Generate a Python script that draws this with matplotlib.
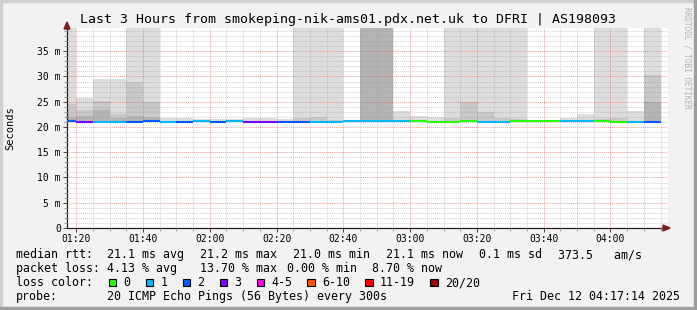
import numpy as np
import matplotlib
matplotlib.use("Agg")
import matplotlib.pyplot as plt
from matplotlib.patches import Polygon, Rectangle
from matplotlib.transforms import Affine2D

W, H = 697, 310
OFF = 45.0  # smoke that leaves the top of the graph

# 5 minute bins, minutes after 01:15
bin_start = np.arange(0, 180, 5)

median_ms = [21.15, 20.95, 21.05, 21.05, 21.0, 21.2, 20.95, 20.95, 21.1, 20.95,
             21.1, 20.95, 20.95, 20.95, 20.95, 20.95, 20.95, 21.1, 21.1, 21.1,
             21.1, 21.1, 20.95, 20.95, 21.1, 20.95, 20.95, 21.1, 21.1, 21.1,
             21.15, 21.15, 21.1, 20.95, 20.95, 20.95]
lost_pings = [2, 3, 1, 1, 2, 2, 1, 2, 1, 2, 1, 3, 3, 2, 2, 1, 1, 1, 1, 1,
              1, 0, 0, 0, 0, 1, 1, 0, 0, 0, 1, 1, 0, 0, 1, 2]
nan = np.nan
smoke_light = [OFF, 25.7, 29.6, 29.6, OFF, OFF, 21.8, 21.7, 21.6, 21.6,
               21.5, 21.8, 21.8, 21.5, OFF, OFF, OFF, nan, OFF, OFF,
               23.1, 22.2, 22.0, OFF, OFF, OFF, OFF, OFF, 21.4, 21.4,
               21.8, 22.6, OFF, OFF, 23.1, OFF]
smoke_mid = [24.5, 23.3, 25.1, 22.5, 28.9, 24.9, nan, nan, nan, nan,
             nan, nan, nan, nan, 21.8, 22.0, 21.4, nan, OFF, OFF,
             nan, nan, nan, 21.7, 25.0, 23.0, 21.8, 21.5, nan, nan,
             nan, nan, 21.5, 21.8, nan, 30.2]
smoke_dark = [22.0, 22.1, 23.3, 21.7, 22.2, 22.0, nan, nan, nan, nan,
              nan, nan, nan, nan, nan, nan, nan, nan, OFF, OFF,
              nan, nan, nan, nan, nan, nan, nan, nan, nan, nan,
              nan, nan, nan, nan, nan, 25.0]

time_ticks = [5, 25, 45, 65, 85, 105, 125, 145, 165]
time_labels = ["01:20", "01:40", "02:00", "02:20", "02:40", "03:00", "03:20", "03:40", "04:00"]
y_ticks = [0, 5, 10, 15, 20, 25, 30, 35]
y_labels = ["0", "5 m", "10 m", "15 m", "20 m", "25 m", "30 m", "35 m"]

loss_legend = ["0", "1", "2", "3", "4-5", "6-10", "11-19", "20/20"]
loss_colors = ["#26ff00", "#00b8ff", "#0059ff", "#7e00ff", "#ff00ea", "#ff5500", "#ff0000", "#a10000"]


def loss_color(n):
    if n <= 3:
        return loss_colors[n]
    if n <= 5:
        return loss_colors[4]
    if n <= 10:
        return loss_colors[5]
    if n <= 19:
        return loss_colors[6]
    return loss_colors[7]


plt.rcParams["font.family"] = ["DejaVu Sans Mono"]
fig = plt.figure(figsize=(W / 100, H / 100), dpi=100, facecolor="#f2f2f2")
px = Affine2D().scale(1 / W, -1 / H).translate(0, 1) + fig.transFigure

x0, x1, y0, y1 = 67, 668, 28, 228
ax = fig.add_axes([x0 / W, 1 - y1 / H, (x1 - x0) / W, (y1 - y0) / H])
ax.set_facecolor("white")
ax.set_xlim(2.233, 182.233)
ax.set_ylim(0, 39.6)

# smoke
med = np.array(median_ms)
for vals, col in [(smoke_light, "#dddddd"), (smoke_mid, "#c8c8c8"), (smoke_dark, "#b4b4b4")]:
    v = np.array(vals)
    ok = ~np.isnan(v)
    ax.bar(bin_start[ok], v[ok] - med[ok], bottom=med[ok], width=5, align="edge",
           color=col, linewidth=0, zorder=1)

# median rtt coloured by loss
for t, m, n in zip(bin_start, median_ms, lost_pings):
    ax.hlines(m, t, t + 5, colors=loss_color(n), linewidth=1.5, zorder=4)

# grid
ax.set_xticks(time_ticks)
ax.set_xticklabels(time_labels)
ax.set_xticks(np.arange(5, 182, 5), minor=True)
ax.set_yticks(y_ticks)
ax.set_yticklabels(y_labels)
ax.set_yticks(np.arange(1, 40, 1), minor=True)
ax.grid(True, which="minor", color="#9a9a9a", alpha=0.45, linewidth=0.7, linestyle=(0, (1, 1)), zorder=2)
ax.grid(True, which="major", color="#de4f4f", alpha=0.55, linewidth=0.7, linestyle=(0, (1, 1)), zorder=2)
ax.set_axisbelow(False)
ax.tick_params(which="major", direction="out", length=3, width=0.7, color="#444444", labelsize=7, pad=1.5)
ax.tick_params(which="minor", direction="out", length=2, width=0.7, color="#999999")
for s in ["top", "right"]:
    ax.spines[s].set_visible(False)
for s in ["left", "bottom"]:
    ax.spines[s].set_color("#1f1f1f")
    ax.spines[s].set_linewidth(0.9)

# axis arrows
fig.add_artist(Polygon([(64, 29), (70, 29), (67, 22)], closed=True, color="#801f1f", transform=px))
fig.add_artist(Polygon([(663, 225), (663, 231), (670, 228)], closed=True, color="#801f1f", transform=px))

# frame
fig.add_artist(Rectangle((0, 0), W, 2, color="#cfcfcf", transform=px))
fig.add_artist(Rectangle((0, 0), 2, H, color="#cfcfcf", transform=px))
fig.add_artist(Rectangle((0, H - 3), W, 3, color="#9e9e9e", transform=px))
fig.add_artist(Rectangle((W - 3, 0), 3, H, color="#9e9e9e", transform=px))

fig.text(348, 19, "Last 3 Hours from smokeping-nik-ams01.pdx.net.uk to DFRI | AS198093",
         transform=px, ha="center", va="center", fontsize=9.5, color="black")
fig.text(10, 128, "Seconds", transform=px, ha="center", va="center", rotation=90, fontsize=7.5)
fig.text(687, 58, "RRDTOOL / TOBI OETIKER", transform=px, ha="center", va="center",
         rotation=-90, fontsize=5.6, color="#b0b0b0")

lg = dict(transform=px, va="center", fontsize=8.4, color="black")
row1 = [(16, "median rtt:"), (107.3, "21.1 ms avg"), (200, "21.2 ms max"), (293.3, "21.0 ms min"),
        (386, "21.1 ms now"), (479.3, "0.1 ms sd"), (558.3, "373.5   am/s")]
row2 = [(16, "packet loss:"), (107.3, "4.13 % avg"), (200, "13.70 % max"), (286.7, "0.00 % min"),
        (372.3, "8.70 % now")]
for x, s in row1:
    fig.text(x, 254.5, s, **lg)
for x, s in row2:
    fig.text(x, 268.5, s, **lg)

fig.text(16, 282.5, "loss color:", **lg)
sq_x = [108.7, 145.7, 182.7, 219.7, 256.7, 307.3, 365.3, 430.3]
for sx, lab, col in zip(sq_x, loss_legend, loss_colors):
    fig.add_artist(Rectangle((sx, 278.5), 7.5, 7.5, facecolor=col, edgecolor="black",
                             linewidth=0.8, transform=px))
    fig.text(sx + 14.6, 282.5, lab, **lg)

fig.text(16, 296.5, "probe:", **lg)
fig.text(107.3, 296.5, "20 ICMP Echo Pings (56 Bytes) every 300s", **lg)
fig.text(680, 296.5, "Fri Dec 12 04:17:14 2025", ha="right", **lg)

fig.savefig("out.png", dpi=100, facecolor=fig.get_facecolor())
